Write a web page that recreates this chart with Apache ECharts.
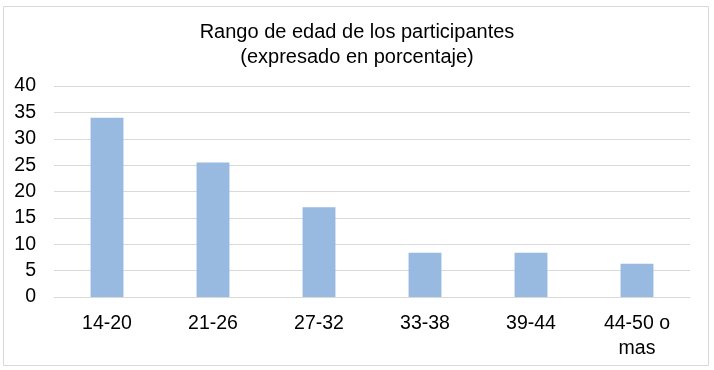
<!DOCTYPE html>
<html><head><meta charset="utf-8">
<script src="https://cdn.jsdelivr.net/npm/echarts@6/dist/echarts.min.js"></script>
<style>html,body{margin:0;padding:0;background:#fff}#c{width:714px;height:370px}</style>
</head><body><div id="c"></div>
<script>
var categories = ['14-20', '21-26', '27-32', '33-38', '39-44', '44-50 o\nmas'];
var values = [34, 25.5, 17, 8.4, 8.4, 6.3];
var yTicks = [0, 5, 10, 15, 20, 25, 30, 35, 40];
var titleText = 'Rango de edad de los participantes\n(expresado en porcentaje)';

var chart = echarts.init(document.getElementById('c'), null, {renderer: 'canvas'});
chart.setOption({
  animation: false,
  backgroundColor: '#fff',
  graphic: [{
    type: 'rect', shape: {x: 3.5, y: 6.5, width: 705, height: 359},
    style: {fill: 'none', stroke: '#d9d9d9', lineWidth: 1}, silent: true
  }],
  title: {
    text: titleText, left: 'center', top: 15,
    textStyle: {fontFamily: 'Liberation Sans', fontSize: 20, fontWeight: 'normal', color: '#000', lineHeight: 25}
  },
  grid: {left: 54, right: 24, top: 86, bottom: 73, containLabel: false},
  xAxis: {
    type: 'category', data: categories,
    axisLine: {show: true, lineStyle: {color: '#d9d9d9', width: 1}},
    axisTick: {show: false},
    axisLabel: {fontFamily: 'Liberation Sans', fontSize: 19.5, color: '#000', margin: 14, lineHeight: 25, interval: 0}
  },
  yAxis: {
    type: 'value', min: yTicks[0], max: yTicks[yTicks.length - 1], interval: 5,
    axisLine: {show: false}, axisTick: {show: false},
    splitLine: {lineStyle: {color: '#d9d9d9', width: 1}},
    axisLabel: {fontFamily: 'Liberation Sans', fontSize: 19.5, color: '#000', margin: 18}
  },
  series: [{
    type: 'bar', data: values, barWidth: '31%',
    itemStyle: {color: '#98b9e0'}
  }]
});
</script></body></html>
